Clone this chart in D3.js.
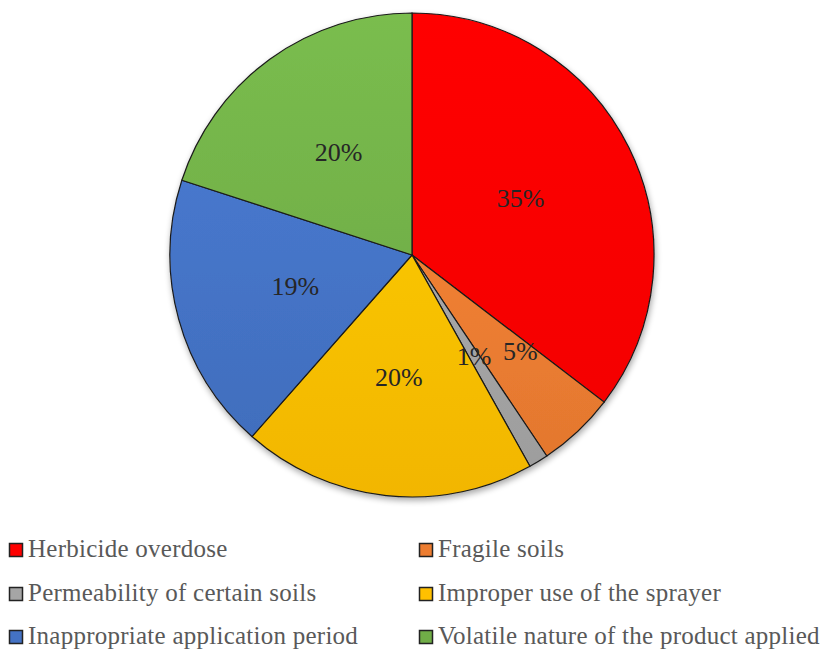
<!DOCTYPE html>
<html>
<head>
<meta charset="utf-8">
<script src="https://cdn.jsdelivr.net/npm/d3@7"></script>
<style>
  body { margin: 0; background: #fff; }
  svg { display: block; font-family: "Liberation Serif", "Times New Roman", serif; }
</style>
</head>
<body>
<div id="chart"></div>
<script>
var causes = ["Herbicide overdose", "Fragile soils", "Permeability of certain soils",
              "Improper use of the sprayer", "Inappropriate application period",
              "Volatile nature of the product applied"]
var shares = [35.4, 5.2, 1.3, 19.6, 18.5, 20.0]
var colors = ["#ff0000", "#ed7d31", "#a5a5a5", "#ffc000", "#4472c4", "#70ad47"]

var width = 823, height = 654
var cx = 412, cy = 255, radius = 242

var svg = d3.select("#chart").append("svg")
    .attr("width", width)
    .attr("height", height)

var defs = svg.append("defs")

// soft shadow like the office chart
var f = defs.append("filter").attr("id", "shadow")
    .attr("x", "-10%").attr("y", "-10%").attr("width", "125%").attr("height", "125%")
f.append("feGaussianBlur").attr("in", "SourceAlpha").attr("stdDeviation", 3)
f.append("feOffset").attr("dx", 1).attr("dy", 3).attr("result", "b")
f.append("feComponentTransfer").append("feFuncA").attr("type", "linear").attr("slope", 0.35)
var m = f.append("feMerge")
m.append("feMergeNode")
m.append("feMergeNode").attr("in", "SourceGraphic")

// vertical gradients, lighter on top
colors.forEach(function(c, i) {
  var g = defs.append("linearGradient").attr("id", "grad" + i)
      .attr("gradientUnits", "userSpaceOnUse")
      .attr("x1", 0).attr("y1", -radius).attr("x2", 0).attr("y2", radius)
  g.append("stop").attr("offset", "0%").attr("stop-color", d3.color(c).brighter(0.25))
  g.append("stop").attr("offset", "100%").attr("stop-color", d3.color(c).darker(0.15))
})

var pie = d3.pie().sort(null).value(function(d) { return d })
var arcs = pie(shares)

var arc = d3.arc().innerRadius(0).outerRadius(radius)

var g = svg.append("g")
    .attr("transform", "translate(" + cx + "," + cy + ")")

var slices = g.append("g").attr("filter", "url(#shadow)")
slices.selectAll("path")
    .data(arcs)
    .enter()
    .append("path")
    .attr("d", arc)
    .attr("fill", function(d, i) { return "url(#grad" + i + ")" })
    .attr("stroke", "#1a1a1a")
    .attr("stroke-width", 1.2)

// label distance from centre, the small slices sit a bit off
var labelR = [121, 145, 119, 123, 121, 125]
var nudge = [[0, -3], [9, -9], [0, 0], [0, 0], [0, 0], [0, -1]]

g.selectAll("text.pct")
    .data(arcs)
    .enter()
    .append("text")
    .attr("class", "pct")
    .attr("x", function(d, i) {
      var a = (d.startAngle + d.endAngle) / 2
      return Math.sin(a) * labelR[i] + nudge[i][0]
    })
    .attr("y", function(d, i) {
      var a = (d.startAngle + d.endAngle) / 2
      return -Math.cos(a) * labelR[i] + nudge[i][1]
    })
    .attr("text-anchor", "middle")
    .attr("dominant-baseline", "central")
    .attr("font-size", "26px")
    .attr("fill", "#262626")
    .text(function(d) { return Math.round(d.data) + "%" })

// legend, two columns
var colX = [9, 419], rowY = [550, 594, 637]

var leg = svg.selectAll("g.leg")
    .data(causes)
    .enter()
    .append("g")
    .attr("class", "leg")
    .attr("transform", function(d, i) {
      return "translate(" + colX[i % 2] + "," + rowY[Math.floor(i / 2)] + ")"
    })

leg.append("rect")
    .attr("x", 0.5).attr("y", -6.5)
    .attr("width", 13).attr("height", 13)
    .attr("fill", function(d, i) { return colors[i] })
    .attr("stroke", "#222")
    .attr("stroke-width", 1.5)

leg.append("text")
    .attr("x", 19)
    .attr("y", 7)
    .attr("font-size", "25px")
    .attr("letter-spacing", "0.25px")
    .attr("fill", "#595959")
    .text(function(d) { return d })
</script>
</body>
</html>
